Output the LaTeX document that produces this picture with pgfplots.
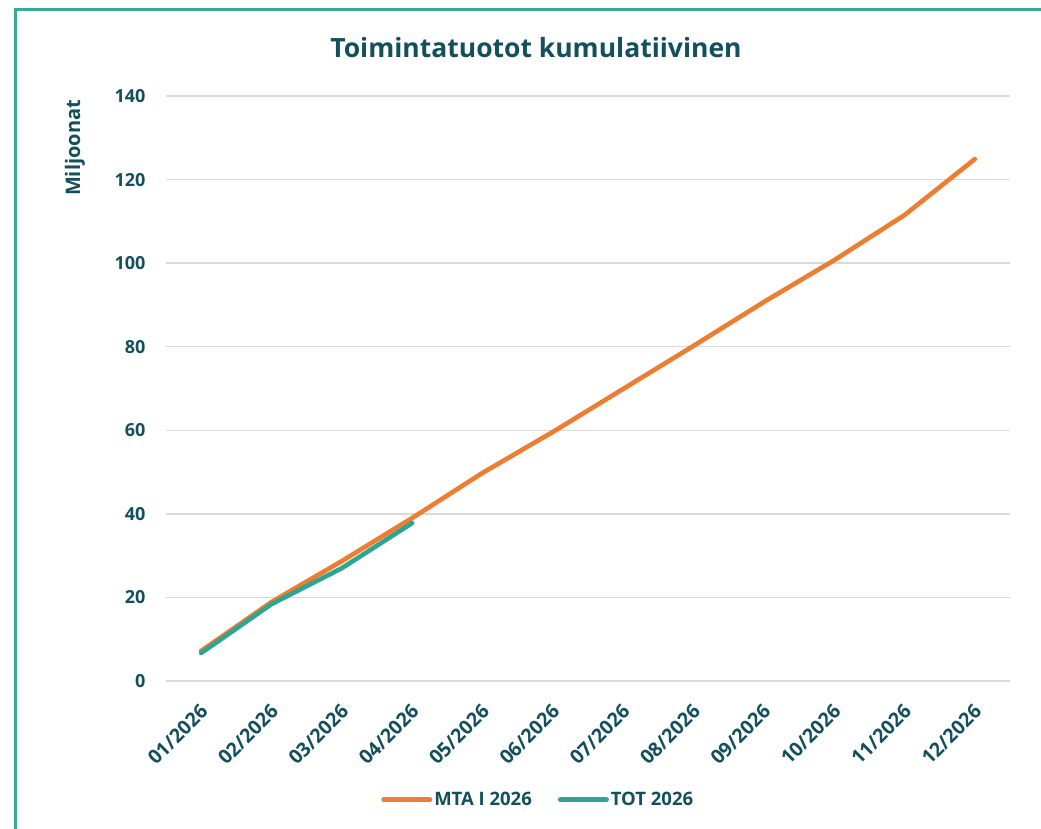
\documentclass[border=0pt]{standalone}
\usepackage{pgfplots}
\pgfplotsset{compat=1.18}
\usepackage{fontspec}
\setmainfont{Open Sans}
\definecolor{txt}{HTML}{134F5C}
\definecolor{mta}{HTML}{ED7D31}
\definecolor{tot}{HTML}{2EA593}
\definecolor{frame}{HTML}{3AA898}
\definecolor{gridc}{HTML}{D9D9D9}
\begin{document}
\begin{tikzpicture}
\useasboundingbox (0pt,0pt) rectangle (1041pt,829pt);
\fill[white] (0pt,0pt) rectangle (1041pt,829pt);
\draw[frame,line width=3pt] (15pt,0pt) -- (15pt,819pt) -- (1041pt,819pt);
\node[txt,font=\fontsize{26.5}{30}\selectfont\bfseries] at (536pt,781pt) {Toimintatuotot kumulatiivinen};
\node[txt,font=\fontsize{20}{24}\selectfont\bfseries,rotate=90] at (75pt,681pt) {Miljoonat};
\begin{axis}[
  at={(166pt,148pt)}, anchor=south west,
  scale only axis, width=844pt, height=585pt,
  xmin=0.5, xmax=12.5, ymin=0, ymax=140,
  ytick={0,20,...,140},
  xtick={1,...,12},
  xticklabels={01/2026,02/2026,03/2026,04/2026,05/2026,06/2026,07/2026,08/2026,09/2026,10/2026,11/2026,12/2026},
  axis line style={draw=none},
  major tick length=0pt,
  ymajorgrids, grid style={gridc,line width=1.5pt},
  /pgf/number format/assume math mode=true,
  ticklabel style={txt,font=\fontsize{18}{21}\selectfont\bfseries},
  yticklabel style={xshift=-17pt},
  xticklabel style={rotate=45,anchor=north east,xshift=-13.5pt,yshift=-10.5pt,font=\fontsize{19.5}{22}\selectfont\bfseries},
  legend style={at={(axis description cs:0.441,-0.203)},anchor=center,draw=none,
    legend columns=2, font=\fontsize{18.5}{22}\selectfont\bfseries, text=txt,
    /tikz/every even column/.append style={column sep=24pt},
    /tikz/every odd column/.append style={inner xsep=1pt}},
  legend image code/.code={\draw[#1,line width=5pt,line cap=round] (0,0) -- (46pt,0);},
]
\addplot[mta,line width=4.6pt,line cap=round,line join=round] coordinates {
(1,7.2)(2,18.9)(3,28.7)(4,39.0)(5,49.8)(6,59.6)(7,69.9)(8,80.2)(9,90.7)(10,100.7)(11,111.5)(12,124.9)};
\addlegendentry{MTA I 2026}
\addplot[tot,line width=4.6pt,line cap=round,line join=round] coordinates {
(1,6.7)(2,18.4)(3,27.0)(4,37.8)};
\addlegendentry{TOT 2026}
\end{axis}
\end{tikzpicture}
\end{document}
